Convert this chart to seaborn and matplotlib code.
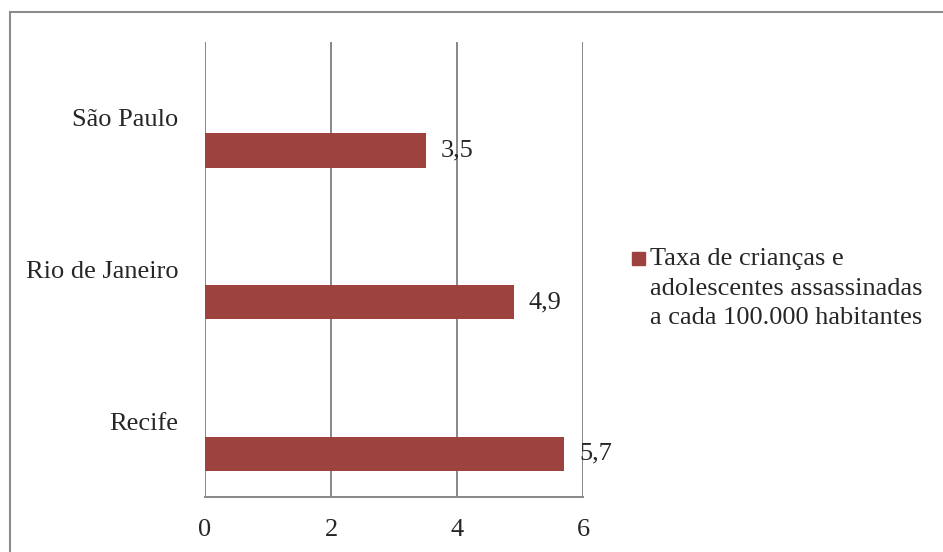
import matplotlib
matplotlib.use("Agg")
import matplotlib.pyplot as plt
import seaborn as sns
from matplotlib.patches import Rectangle

# ============================================================
# Data
# ============================================================
cities = ["São Paulo", "Rio de Janeiro", "Recife"]
rates = [3.5, 4.9, 5.7]
rate_labels = ["3,5", "4,9", "5,7"]
series_name = "Taxa de crianças e\nadolescentes assassinadas\na cada 100.000 habitantes"
x_ticks = [0, 2, 4, 6]

BAR_COLOR = "#9E4240"
GRID_COLOR = "#878787"
FS = 19

# ============================================================
# Style
# ============================================================
sns.set_theme(style="white")
plt.rcParams.update({
    "font.family": ["Liberation Serif", "DejaVu Serif"],
    "font.size": FS,
})

fig = plt.figure(figsize=(9.43, 5.52), dpi=100)
ax = fig.add_axes([205 / 943, 1 - 497 / 552, 378 / 943, 455 / 552])

sns.barplot(x=rates, y=cities, orient="h", color=BAR_COLOR, width=0.225,
            saturation=1, ax=ax)

# Excel-style: bar sits in the lower half of each category band
for p in ax.patches:
    p.set_y(p.get_y() + 0.215)
    p.set_edgecolor("none")

ax.set_xlim(0, 6)
ax.set_ylim(2.5, -0.5)
ax.set_xticks(x_ticks)
ax.set_xticklabels([str(t) for t in x_ticks])
ax.tick_params(axis="x", length=0, pad=16, labelsize=FS)
ax.tick_params(axis="y", length=0, pad=19, labelsize=FS)
ax.set_xlabel("")
ax.set_ylabel("")

for t in x_ticks:
    ax.axvline(t, color=GRID_COLOR, lw=1.4, zorder=0)
for side in ["top", "right", "left"]:
    ax.spines[side].set_visible(False)
ax.spines["bottom"].set_color(GRID_COLOR)
ax.spines["bottom"].set_linewidth(1.4)

# Data labels
for p, lab in zip(ax.patches, rate_labels):
    ax.annotate(lab, (p.get_width(), p.get_y() + p.get_height() / 2),
                xytext=(15, 0), textcoords="offset pixels",
                ha="left", va="center", fontsize=FS)

# Legend
fig.patches.append(Rectangle((632 / 943, 1 - 265 / 552), 13 / 943, 13 / 552,
                             transform=fig.transFigure, color=BAR_COLOR))
fig.text(650 / 943, 1 - 248 / 552, series_name, ha="left", va="top",
         fontsize=FS, linespacing=1.45)

# Chart-area border
fig.patches.append(Rectangle((10 / 943, -0.05), 1.0, 1.05 - 12 / 552,
                             transform=fig.transFigure, fill=False,
                             edgecolor="#8c8c8c", lw=1.5))

fig.savefig("out.png", dpi=100)
